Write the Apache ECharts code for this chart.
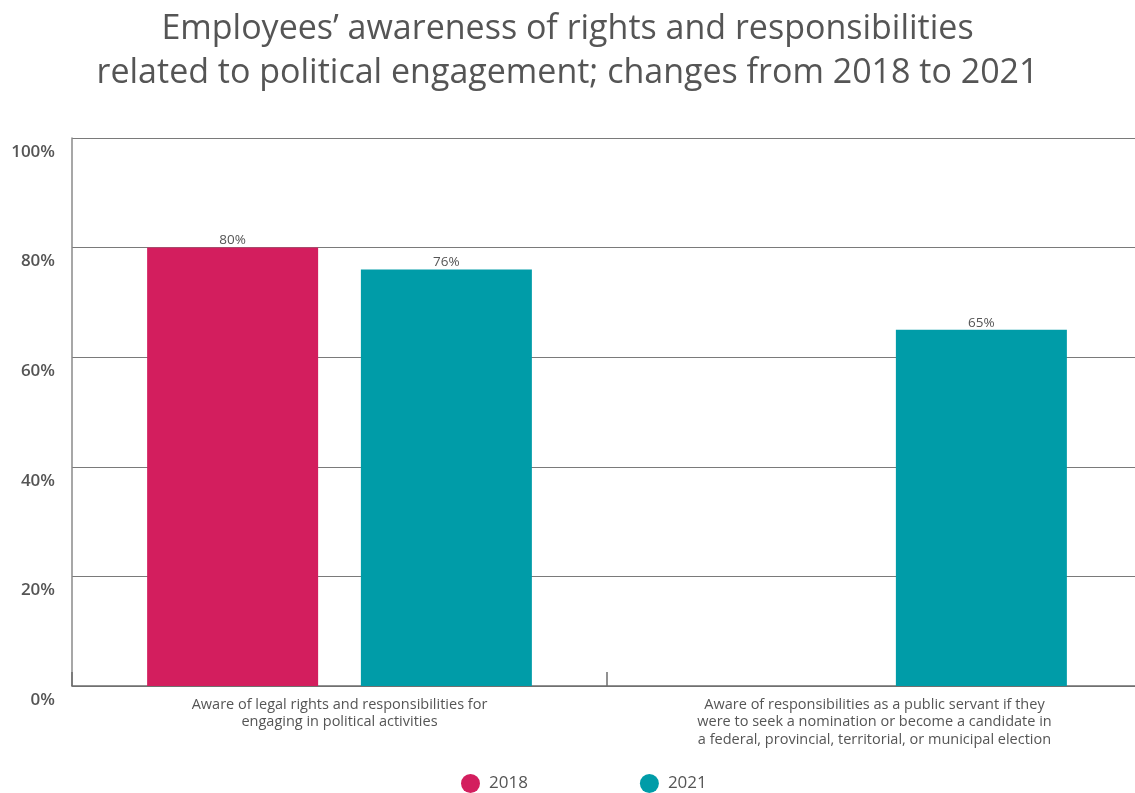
<!DOCTYPE html>
<html>
<head>
<meta charset="utf-8">
<script src="https://cdn.jsdelivr.net/npm/echarts@6/dist/echarts.min.js"></script>
<style>
  html, body { margin: 0; padding: 0; background: #fff; }
  #chart { width: 1135px; height: 793px; }
</style>
</head>
<body>
<div id="chart"></div>
<script>
// Survey categories (x axis)
const categories = [
  'Aware of legal rights and responsibilities for\nengaging in political activities',
  'Aware of responsibilities as a public servant if they\nwere to seek a nomination or become a candidate in\na federal, provincial, territorial, or municipal election'
];
// Share of employees (%) per survey year; no 2018 value for the second item
const values2018 = [80, null];
const values2021 = [76, 65];
const seriesNames = ['2018', '2021'];
const yTicks = [0, 20, 40, 60, 80, 100];

const FONT = '"Open Sans", "Noto Sans", sans-serif';
const TEXT = '#555555';

const chart = echarts.init(document.getElementById('chart'));

const labelStyle = {
  show: true,
  position: 'top',
  distance: 0,
  formatter: p => p.value + '%',
  color: TEXT,
  fontFamily: FONT,
  fontSize: 13.5
};

chart.setOption({
  animation: false,
  backgroundColor: '#ffffff',
  title: {
    text: 'Employees\u2019 awareness of rights and responsibilities\nrelated to political engagement; changes from 2018 to 2021',
    left: 'center',
    top: 2,
    textStyle: {
      fontFamily: FONT,
      fontWeight: 'normal',
      fontSize: 34,
      lineHeight: 44,
      color: TEXT
    }
  },
  legend: {
    data: seriesNames,
    top: 769,
    left: 456,
    icon: 'circle',
    itemWidth: 19,
    itemHeight: 19,
    itemGap: 112,
    textStyle: { fontFamily: FONT, fontSize: 17, color: TEXT, padding: [0, 0, 0, 4] }
  },
  grid: {
    left: 72,
    top: 138,
    width: 1070,
    height: 548,
    outerBoundsMode: 'none',
    containLabel: false
  },
  xAxis: {
    type: 'category',
    data: categories,
    boundaryGap: true,
    axisLine: { show: true, lineStyle: { color: '#6e6e6e', width: 1.5 } },
    axisTick: { show: true, inside: true, length: 14, lineStyle: { color: '#6e6e6e', width: 1.5 } },
    axisLabel: {
      interval: 0,
      margin: 10,
      fontFamily: FONT,
      fontSize: 14.5,
      lineHeight: 17.5,
      color: TEXT,
      align: 'center'
    }
  },
  yAxis: {
    type: 'value',
    min: 0,
    max: 100,
    interval: 20,
    axisLine: { show: true, lineStyle: { color: '#8a8a8a', width: 1.5 } },
    axisTick: { show: false },
    splitLine: { show: true, lineStyle: { color: '#7a7a7a', width: 1 } },
    axisLabel: {
      formatter: v => yTicks.includes(v) ? v + '%' : '',
      margin: 17,
      fontFamily: FONT,
      fontSize: 17,
      fontWeight: 600,
      color: TEXT,
      verticalAlign: 'top',
      lineHeight: 28
    }
  },
  series: [
    {
      name: seriesNames[0],
      type: 'bar',
      data: values2018,
      barWidth: 171,
      barGap: '25%',
      itemStyle: { color: '#d31e5e' },
      label: labelStyle
    },
    {
      name: seriesNames[1],
      type: 'bar',
      data: values2021,
      barWidth: 171,
      itemStyle: { color: '#009ca8' },
      label: labelStyle
    }
  ]
});
</script>
</body>
</html>
